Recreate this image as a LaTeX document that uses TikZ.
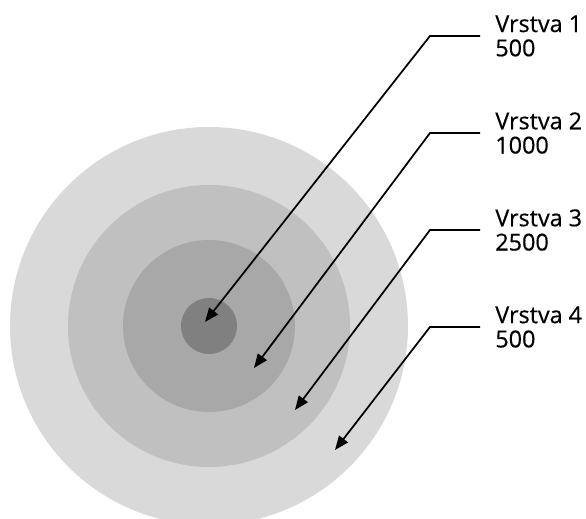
\documentclass[tikz,border=0pt]{standalone}
\usepackage{fontspec}
\setmainfont{Open Sans}[UprightFeatures={FakeBold=0.5}]
\usepackage{xcolor}
\usetikzlibrary{arrows.meta}

\definecolor{ring4}{RGB}{217,217,217}
\definecolor{ring3}{RGB}{192,192,192}
\definecolor{ring2}{RGB}{168,168,168}
\definecolor{ring1}{RGB}{128,128,128}

\tikzset{
 leader/.style={line width=1pt,-{Triangle[length=0.28cm,width=0.22cm]}},
 vrstva/.style={anchor=north west,inner sep=0pt,align=left,
   font=\fontsize{13.3}{13.8}\selectfont}
}

\begin{document}
\begin{tikzpicture}[x=0.02cm,y=-0.02cm]
 \useasboundingbox (0,0) rectangle (586,519);

 \coordinate (o) at (209,326);

% layers, outer first
 \fill[ring4] (o) circle (199);
 \fill[ring3] (o) circle (141);
 \fill[ring2] (o) circle (86);
 \fill[ring1] (o) circle (28);

 \coordinate (e1) at (480,36);
 \coordinate (e2) at (480,133);
 \coordinate (e3) at (480,230);
 \coordinate (e4) at (480,327);

 \coordinate (k1) at (430,36);
 \coordinate (k2) at (430,133);
 \coordinate (k3) at (430,230);
 \coordinate (k4) at (430,327);

 \coordinate (t1) at (205,322);
 \coordinate (t2) at (254,368);
 \coordinate (t3) at (295,410);
 \coordinate (t4) at (335,450);

\node[vrstva] (v1) at (495,15) {Vrstva 1\\500};
\node[vrstva] (v2) at (495,112) {Vrstva 2\\1000};
\node[vrstva] (v3) at (495,209) {Vrstva 3\\2500};
\node[vrstva] (v4) at (495,306) {Vrstva 4\\500};

\draw[leader] (e1)--(k1)--(t1);
\draw[leader] (e2)--(k2)--(t2);
\draw[leader] (e3)--(k3)--(t3);
\draw[leader] (e4)--(k4)--(t4);

\end{tikzpicture}
\end{document}
